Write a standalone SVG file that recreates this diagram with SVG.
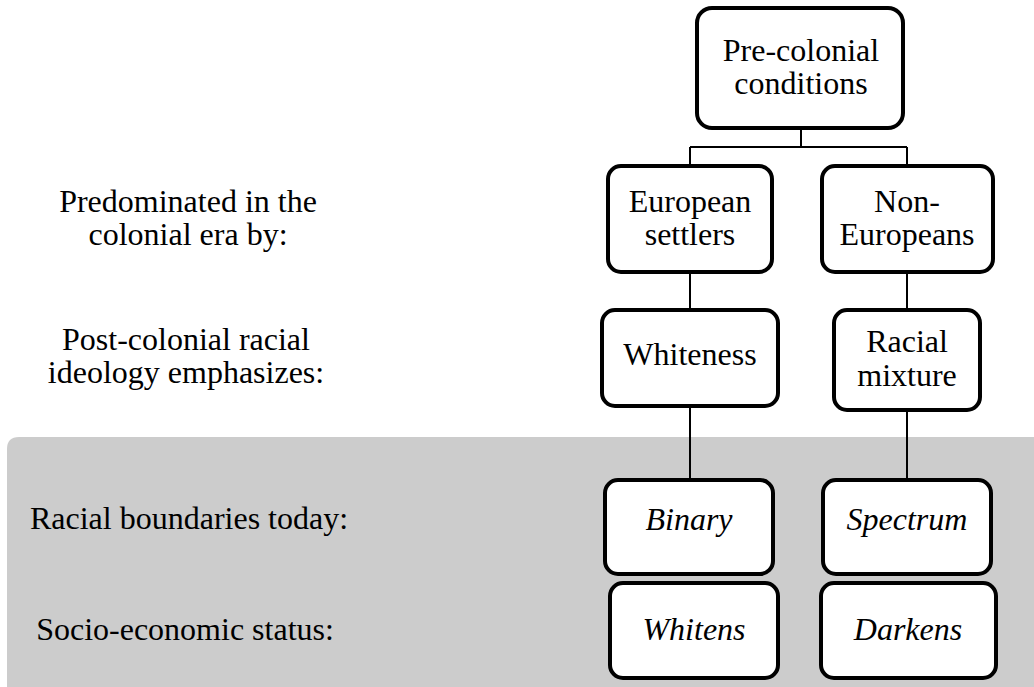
<svg xmlns="http://www.w3.org/2000/svg" width="1034" height="687" viewBox="0 0 1034 687">
<style>
text{font-family:'Liberation Serif','Times New Roman',Times,'Nimbus Roman','Nimbus Roman No9 L',FreeSerif,'Noto Serif','DejaVu Serif',Tinos,serif;font-size:32px;fill:#000;text-anchor:middle}
.i{font-style:italic}
.box{fill:#fff;stroke:#000;stroke-width:4}
.con{fill:none;stroke:#000;stroke-width:2}
</style>
<rect width="1034" height="687" fill="#fff"/>
<path d="M7,449 Q7,437 19,437 L1034,437 L1034,687 L7,687 Z" fill="#cccccc"/>
<g id="connectors">
<path class="con" d="M801,128 V147 M690,147 H907 M690,147 V166 M907,147 V166"/>
<path class="con" d="M690,272 V310 M907,272 V310"/>
<path class="con" d="M690,406 V480 M907,410 V480"/>
</g>
<g id="labels">
<text x="188" y="212">Predominated in the</text>
<text x="188" y="245">colonial era by:</text>
<text x="186" y="350">Post-colonial racial</text>
<text x="186" y="383">ideology emphasizes:</text>
<text x="189" y="529">Racial boundaries today:</text>
<text x="185" y="640">Socio-economic status:</text>
</g>
<g id="pre-colonial">
<rect class="box" x="697" y="8" width="206" height="120" rx="15"/>
<text x="801" y="61">Pre-colonial</text>
<text x="801" y="94">conditions</text>
</g>
<g id="european">
<rect class="box" x="608" y="166" width="164" height="106" rx="13"/>
<text x="690" y="212">European</text>
<text x="690" y="245">settlers</text>
</g>
<g id="non-european">
<rect class="box" x="822" y="166" width="171" height="106" rx="13"/>
<text x="907" y="212">Non-</text>
<text x="907" y="245">Europeans</text>
</g>
<g id="whiteness">
<rect class="box" x="602" y="310" width="176" height="96" rx="13"/>
<text x="690" y="365">Whiteness</text>
</g>
<g id="racial-mixture">
<rect class="box" x="834" y="310" width="146" height="100" rx="13"/>
<text x="907" y="352">Racial</text>
<text x="907" y="386">mixture</text>
</g>
<g id="binary">
<rect class="box" x="605" y="480" width="168" height="94" rx="13"/>
<text class="i" x="689" y="530">Binary</text>
</g>
<g id="spectrum">
<rect class="box" x="823" y="480" width="168" height="94" rx="13"/>
<text class="i" x="907" y="530">Spectrum</text>
</g>
<g id="whitens">
<rect class="box" x="610" y="583" width="168" height="95" rx="13"/>
<text class="i" x="694" y="640">Whitens</text>
</g>
<g id="darkens">
<rect class="box" x="821" y="583" width="175" height="95" rx="13"/>
<text class="i" x="908" y="640">Darkens</text>
</g>
</svg>
